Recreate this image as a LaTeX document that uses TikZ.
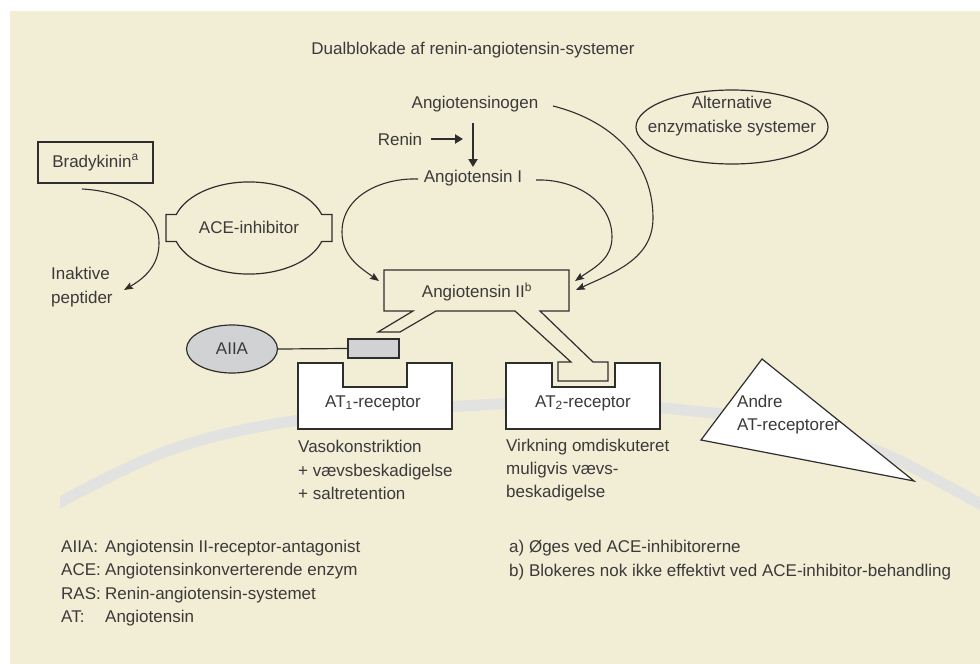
\documentclass[tikz,border=0pt]{standalone}
\usepackage{fontspec}
\setmainfont{Liberation Sans}
\usetikzlibrary{arrows.meta,shapes.geometric}
\definecolor{bg}{HTML}{F2EDD5}
\definecolor{band}{HTML}{E2E2E1}
\definecolor{ink}{HTML}{2E2E2E}
\definecolor{txt}{HTML}{3A3A3A}
\definecolor{blockgray}{HTML}{D1D2D4}
\begin{document}
\begin{tikzpicture}[x=1pt,y=-1pt,
  every node/.style={text=txt,font=\fontsize{17}{23.3}\selectfont,inner sep=0pt},
  outline/.style={draw=ink,line width=1.2pt,line join=miter},
  curvearrow/.style={draw=ink,line width=1.1pt,-{Stealth[length=9pt,width=7pt,inset=1.5pt]}},
  boldarrow/.style={draw=ink,line width=2.4pt,-{Triangle[length=8pt,width=9pt]}},
  txtblock/.style={align=left,anchor=west}]
\useasboundingbox (0,0) rectangle (980,664);
\fill[white] (0,0) rectangle (980,664);
\fill[bg] (10,11) rectangle (980,664);
% membrane band
\begin{scope}
\clip (60,11) rectangle (980,664);
\draw[band,line width=11pt] plot[smooth,tension=0.6] coordinates {(55,505) (170,450) (300,420) (480,405) (580,403) (663,408) (800,425) (880,452) (940,482) (1000,515)};
\end{scope}
% title
\node (title) at (473,50) {Dualblokade af renin-angiotensin-systemer};
% RAS cascade
\node (agen) at (475,104) {Angiotensinogen};
\node (renin) at (400,139) {Renin};
\node (ang1) at (473,178) {Angiotensin I};
\coordinate (v1) at (473,123);
\coordinate (v2) at (473,167);
\coordinate (r2) at (463,139);
\draw[boldarrow] ([xshift=9pt]renin.east) -- (r2);
\draw[boldarrow] (v1) -- (v2);
% alternative systems
\node[ellipse,outline,minimum width=192pt,minimum height=74pt] (alt) at (732,127) {};
\node[align=center] (alttxt) at (732,116) {Alternative\\enzymatiske systemer};
% receptors
\draw[outline,fill=white] (298,363) -- (343,363) -- (343,387) -- (407,387) -- (407,363) -- (452,363) -- (452,429) -- (298,429) -- cycle;
\draw[outline,fill=white] (506,363) -- (552,363) -- (552,387) -- (615,387) -- (615,363) -- (660,363) -- (660,429) -- (506,429) -- cycle;
\node (at1) at (373,403) {AT\textsubscript{1}-receptor};
\node (at2) at (583,403) {AT\textsubscript{2}-receptor};
% Angiotensin II shape
\draw[outline,fill=bg] (384,270) -- (569,270) -- (569,311) -- (540,311) -- (593,362) -- (608,362) -- (608,381) -- (558,381) -- (558,362) -- (571,362) -- (515,311) -- (436,311) -- (400,332) -- (378,332) -- (413,311) -- (384,311) -- cycle;
\node (ang2) at (477,292) {Angiotensin II\textsuperscript{b}};
\coordinate (t1) at (379,281);
\coordinate (t2) at (575,281);
\coordinate (t3) at (576,290);
\coordinate (s1) at (418,179);
\coordinate (s2) at (536,180);
\coordinate (s3) at (553,106);
\draw[curvearrow] (s1) to[out=178,in=90] (342,232) to[out=270,in=145] (t1);
\draw[curvearrow] (s2) to[out=2,in=90] (612,237) to[out=270,in=35] (t2);
\draw[curvearrow] (s3) to[out=-14,in=90] (653,218) to[out=270,in=25] (t3);
% Bradykinin
\node[outline,minimum width=115pt,minimum height=41pt] (brady) at (95.5,162.5) {Bradykinin\textsuperscript{a}};
\node[txtblock] (inakt) at (51,287) {Inaktive\\peptider};
\coordinate (b1) at (82,189);
\coordinate (b3) at (124,290);
\draw[curvearrow] (b1) to[out=-3,in=90] (159,243) to[out=270,in=30] (b3);
% ACE inhibitor
\draw[outline] (321.7,214.5) arc[start angle=-17,end angle=-163,x radius=76,y radius=46]
  -- (166,214.5) -- (166,241.5) -- (176.3,241.5)
  arc[start angle=163,end angle=17,x radius=76,y radius=46]
  -- (332,241.5) -- (332,214.5) -- cycle;
\node (ace) at (249,227) {ACE-inhibitor};
% AIIA
\node[ellipse,outline,fill=blockgray,minimum width=91pt,minimum height=48pt] (aiia) at (232,349) {AIIA};
\node[outline,fill=blockgray,minimum width=51pt,minimum height=19pt] (block) at (373.5,348.5) {};
\draw[draw=ink,line width=1.2pt] (aiia.east) -- (block.west);
% other receptors
\draw[outline,fill=white] (762,359) -- (701,440) -- (914,481) -- cycle;
\node[txtblock] (andre) at (737,414.5) {Andre\\AT-receptorer};
% effects
\node[txtblock] (vaso) at (298,470) {Vasokonstriktion\\+ vævsbeskadigelse\\+ saltretention};
\node[txtblock] (virk) at (506,470) {Virkning omdiskuteret\\muligvis vævs-\\beskadigelse};
% legend
\node[txtblock] (leg1) at (61,583) {\makebox[44pt][l]{AIIA:}Angiotensin II-receptor-antagonist\\
\makebox[44pt][l]{ACE:}Angiotensinkonverterende enzym\\
\makebox[44pt][l]{RAS:}Renin-angiotensin-systemet\\
\makebox[44pt][l]{AT:}Angiotensin};
\node[txtblock] (leg2) at (509,560) {a) Øges ved ACE-inhibitorerne\\b) Blokeres nok ikke effektivt ved ACE-inhibitor-behandling};
\end{tikzpicture}
\end{document}
